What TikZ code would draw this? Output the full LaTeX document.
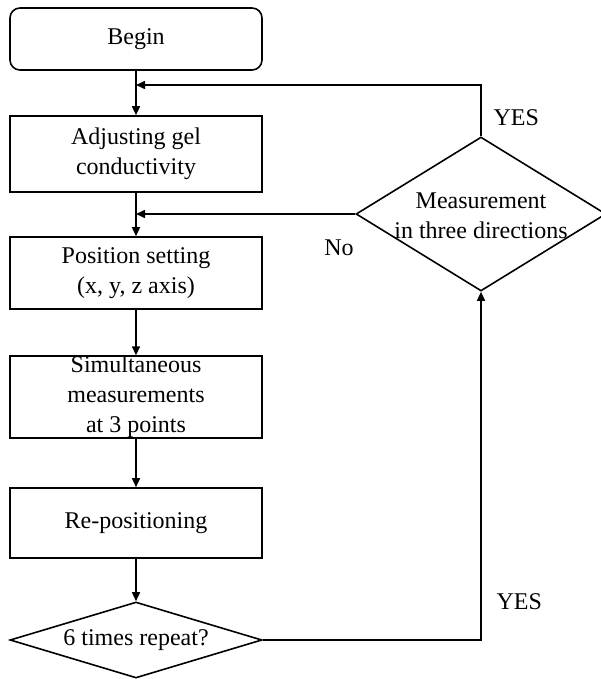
\documentclass[tikz,border=0pt]{standalone}
\usepackage{fontspec}
\setmainfont{Liberation Serif}
\usetikzlibrary{shapes.geometric,arrows.meta,positioning}
\begin{document}
\begin{tikzpicture}[x=1pt, y=-1pt,
                every node/.style = {font=\fontsize{24}{30}\selectfont, align=center},
                box/.style = {draw, line width=1.6pt, minimum width=252pt, inner sep=0pt},
                startbox/.style = {box, rounded corners=10pt, minimum height=62pt},
                decision/.style = {draw, diamond, line width=1.6pt, inner sep=0pt},
                flow/.style = {line width=1.6pt, -{Triangle[length=9pt,width=8pt]}}
            ]
            \useasboundingbox (0,0) rectangle (601,679);
            \node[startbox] (begin) at (136,39) {Begin};
            \node[box, minimum height=76pt] (adjust) at (136,154) {Adjusting gel\\conductivity};
            \node[box, minimum height=72pt] (position) at (136,273) {Position setting\\(x, y, z axis)};
            \node[box, minimum height=81pt] (simul) at (136,397) {Simultaneous\\measurements\\at 3 points};
            \node[box, minimum height=70pt] (repos) at (136,523) {Re-positioning};
            \node[decision, minimum width=252pt, minimum height=76pt,
                  label=center:{6 times repeat?}] (repeat) at (136,640) {};
            \node[decision, minimum width=250pt, minimum height=154pt,
                  label={[yshift=-2pt]center:{Measurement\\in three directions}}] (meas) at (481,214) {};
            \coordinate (topjoin) at (136,85);
            \coordinate (midjoin) at (136,214);
            \draw[flow] (begin) -- (adjust);
            \draw[flow] (adjust) -- (position);
            \draw[flow] (position) -- (simul);
            \draw[flow] (simul) -- (repos);
            \draw[flow] (repos) -- (repeat);
            \draw[flow] (repeat.east) -| (meas.south);
            \draw[flow] (meas.north) |- (topjoin);
            \draw[flow] (meas.west) -- (midjoin);
            \node[anchor=west] (yesup) at (490,118) {YES};
            \node[anchor=west] (yesdown) at (493,602) {YES};
            \node (no) at (339,248) {No};
        \end{tikzpicture}
\end{document}
